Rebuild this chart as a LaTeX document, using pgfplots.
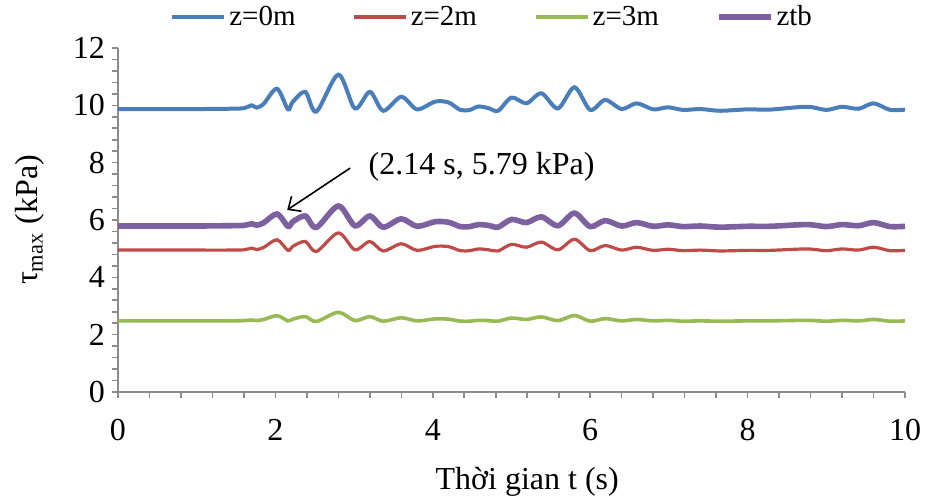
\documentclass[border=0pt]{standalone}
\usepackage{fontspec}
\setmainfont{Liberation Serif}
\usepackage{pgfplots}
\usepackage{pgfplotstable}
\pgfplotsset{compat=1.18}
\usetikzlibrary{arrows.meta}

\definecolor{cblue}{HTML}{4A7EBB}
\definecolor{cred}{HTML}{BE4B48}
\definecolor{cgreen}{HTML}{98B954}
\definecolor{cpurple}{HTML}{7D60A0}
\definecolor{axgray}{HTML}{8C8C8C}

% t, tau_max at z=0m, 2m, 3m and ztb
\pgfplotstableread{
t z0 z2 z3 ztb
0 9.87 4.95 2.48 5.79
0.5 9.87 4.95 2.48 5.79
1.0 9.87 4.95 2.48 5.79
1.4 9.88 4.95 2.48 5.80
1.6 9.90 4.96 2.49 5.81
1.7 10.00 5.02 2.51 5.87
1.76 9.92 4.97 2.49 5.82
1.85 10.05 5.04 2.53 5.90
2.02 10.58 5.31 2.66 6.21
2.16 9.86 4.94 2.48 5.78
2.22 10.12 5.08 2.54 5.94
2.38 10.47 5.25 2.63 6.14
2.52 9.78 4.90 2.46 5.74
2.8 11.07 5.55 2.78 6.49
3.01 9.89 4.96 2.49 5.80
3.2 10.47 5.25 2.63 6.14
3.37 9.81 4.92 2.47 5.75
3.6 10.30 5.17 2.59 6.04
3.8 9.86 4.94 2.48 5.78
4.03 10.13 5.08 2.55 5.94
4.2 10.10 5.07 2.54 5.92
4.35 9.84 4.93 2.47 5.77
4.47 9.84 4.93 2.47 5.77
4.58 9.96 4.99 2.50 5.84
4.71 9.90 4.96 2.49 5.81
4.83 9.81 4.92 2.47 5.75
5.0 10.27 5.15 2.58 6.02
5.19 10.07 5.05 2.53 5.91
5.38 10.42 5.23 2.62 6.11
5.59 9.89 4.96 2.49 5.80
5.8 10.63 5.33 2.67 6.24
6.0 9.84 4.93 2.47 5.77
6.19 10.19 5.11 2.56 5.98
6.4 9.87 4.95 2.48 5.79
6.59 10.07 5.05 2.53 5.91
6.8 9.86 4.94 2.48 5.78
6.99 9.93 4.98 2.50 5.83
7.18 9.84 4.93 2.47 5.77
7.4 9.87 4.95 2.48 5.79
7.65 9.81 4.92 2.47 5.75
8.0 9.86 4.94 2.48 5.78
8.28 9.85 4.94 2.48 5.78
8.75 9.95 4.99 2.50 5.84
9.0 9.84 4.93 2.47 5.77
9.2 9.95 4.99 2.50 5.84
9.41 9.88 4.95 2.48 5.80
9.6 10.07 5.05 2.53 5.91
9.81 9.84 4.93 2.47 5.77
10.0 9.85 4.94 2.48 5.78
}\data

\begin{document}
\begin{tikzpicture}
\useasboundingbox (-59pt,-54.5pt) rectangle (403.5pt,196pt);
\begin{axis}[
    scale only axis,
    width=393.5pt, height=172pt,
    xmin=0, xmax=10, ymin=0, ymax=12,
    xtick={0,2,...,10}, ytick={0,2,...,12},
    minor x tick num=4, minor y tick num=4,
    axis x line*=bottom, axis y line*=left,
    axis line style={draw=axgray, line width=0.9pt},
    every tick/.style={draw=axgray, line width=0.8pt},
    tick align=outside,
    major tick length=3pt, minor tick length=3pt,
    /pgf/number format/assume math mode=true,
    tick label style={font=\rmfamily\fontsize{16}{16}\selectfont},
    xticklabel style={yshift=-7pt},
    xlabel={Thời gian t (s)},
    ylabel={τ\textsubscript{max} (kPa)},
    xlabel style={font=\rmfamily\fontsize{16}{16}\selectfont, at={(axis description cs:0.52,-0.262)}, anchor=center},
    ylabel style={font=\rmfamily\fontsize{16}{16}\selectfont, at={(axis description cs:-0.112,0.5)}, anchor=center},
    legend columns=4,
    legend style={draw=none, fill=none, at={(axis description cs:0.476,1.09)}, anchor=center,
        font=\rmfamily\fontsize{14.5}{14.5}\selectfont,
        /tikz/every even column/.append style={column sep=27pt},
        nodes={inner sep=1.5pt}},
    legend image code/.code={\draw[#1] (0pt,0pt) -- (26pt,0pt);},
]
\addplot[cblue, line width=2pt, smooth, tension=0.5] table[x=t, y=z0] {\data};
\addlegendentry{z=0m}
\addplot[cred, line width=1.6pt, smooth, tension=0.5] table[x=t, y=z2] {\data};
\addlegendentry{z=2m}
\addplot[cgreen, line width=1.8pt, smooth, tension=0.5] table[x=t, y=z3] {\data};
\addlegendentry{z=3m}
\addplot[cpurple, line width=2.8pt, smooth, tension=0.5] table[x=t, y=ztb] {\data};
\addlegendentry{ztb}

\draw[-{Straight Barb[length=5pt,width=9pt]}, line width=0.8pt] (axis cs:2.95,7.81) -- (axis cs:2.15,6.35);
\node[anchor=west, font=\rmfamily\fontsize{16}{16}\selectfont, inner sep=0pt] at (axis cs:3.18,7.85) {(2.14 s, 5.79 kPa)};
\end{axis}
\end{tikzpicture}
\end{document}
